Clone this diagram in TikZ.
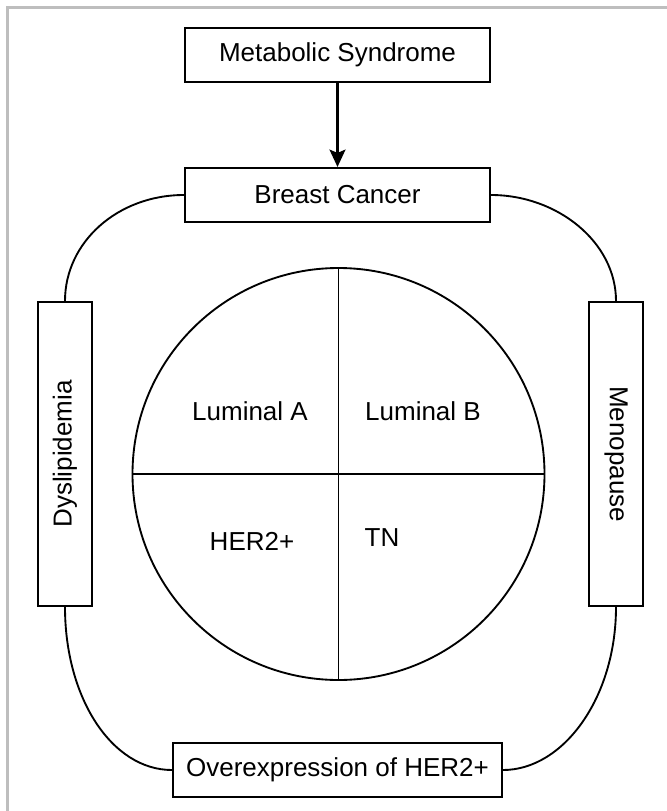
\documentclass[tikz,border=0pt]{standalone}
\usepackage{fontspec}
\setmainfont{Liberation Sans}
\usetikzlibrary{arrows.meta}
\tikzset{
  box/.style={draw=black, line width=1.6pt, inner sep=0pt, font=\fontsize{19.5}{22}\selectfont},
  lbl/.style={inner sep=0pt, font=\fontsize{19.5}{22}\selectfont},
  conn/.style={draw=black, line width=1.4pt},
}
\begin{document}
\begin{tikzpicture}[x=0.75pt, y=-0.75pt]
\useasboundingbox (0,0) rectangle (667,811);
\fill[white] (0,0) rectangle (667,811);
% gray frame
\draw[line width=1.6pt, color={rgb,255:red,190;green,190;blue,190}] (7.5,811) -- (7.5,7.5) -- (667,7.5);

\node[box, minimum width=228.75pt, minimum height=40.5pt] (ms) at (337.5,55) {Metabolic Syndrome};
\node[box, minimum width=228.75pt, minimum height=40.5pt] (bc) at (337.5,195) {Breast Cancer};
\node[box, minimum width=246.75pt, minimum height=40.5pt] (oe) at (337.5,770) {Overexpression of HER2+};
\node[box, rotate=90, minimum width=228pt, minimum height=40.5pt] (dys) at (65,454) {Dyslipidemia};
\node[box, rotate=-90, minimum width=228pt, minimum height=40.5pt] (meno) at (616,454) {Menopause};

\draw[line width=1.6pt, -{Stealth[length=13pt, width=12pt, inset=2.5pt]}] (ms.south) -- (bc.north);

\node[draw=black, line width=1.4pt, circle, minimum size=309pt, inner sep=0pt] (circ) at (338.5,474) {};
\draw[conn] (circ.north) -- (circ.south);
\draw[conn] (circ.west) -- (circ.east);

\node[lbl] (luma) at (250,411) {Luminal A};
\node[lbl] (lumb) at (423,411) {Luminal B};
\node[lbl] (her) at (252,541) {HER2+};
\node[lbl] (tn) at (382,538) {TN};

\draw[conn] (bc.west) .. controls +(-66,0) and +(0,-59) .. (dys.east);
\draw[conn] (bc.east) .. controls +(66,0) and +(0,-59) .. (meno.west);
\draw[conn] (dys.west) .. controls +(0,91) and +(-60,0) .. (oe.west);
\draw[conn] (meno.east) .. controls +(0,91) and +(60,0) .. (oe.east);
\end{tikzpicture}
\end{document}
